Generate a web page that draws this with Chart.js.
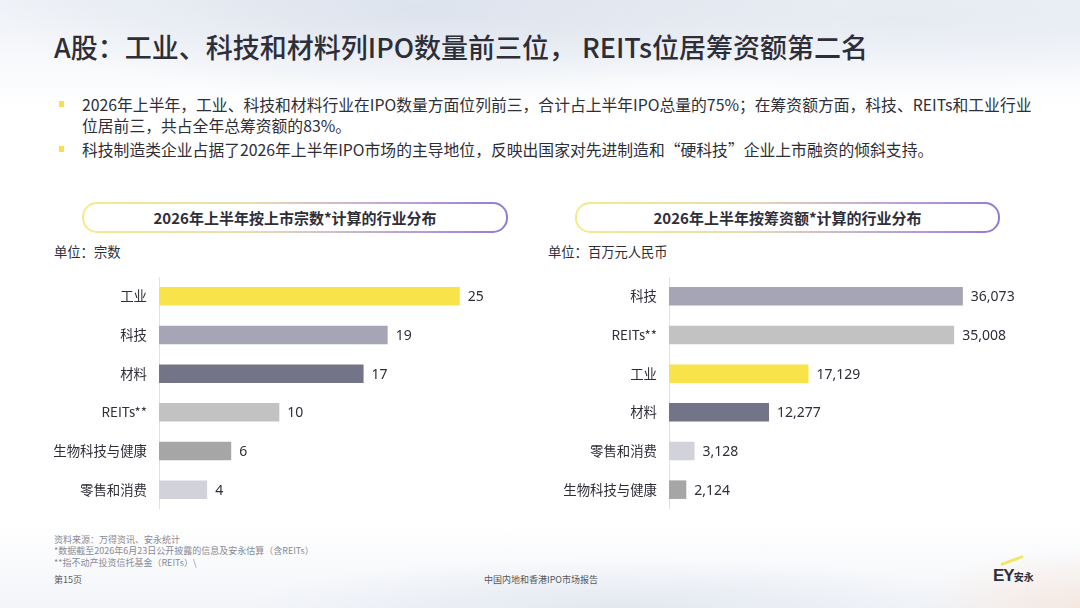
<!DOCTYPE html>
<html lang="zh-CN">
<head>
<meta charset="utf-8">
<title>A股IPO行业分布</title>
<script src="https://cdn.jsdelivr.net/npm/chart.js@4.4.0/dist/chart.umd.min.js"></script>
<style>
    html, body {
        margin: 0;
        padding: 0;
    }
    body {
        width: 1080px;
        height: 608px;
        position: relative;
        overflow: hidden;
        font-family: "Noto Sans CJK SC", "Noto Sans", sans-serif;
        color: #2e2e38;
        background:
            radial-gradient(ellipse 420px 90px at 420px 10px, rgba(214, 222, 234, 0.75), rgba(255,255,255,0) 100%),
            radial-gradient(ellipse 500px 70px at 900px 20px, rgba(222, 228, 238, 0.6), rgba(255,255,255,0) 100%),
            radial-gradient(ellipse 380px 50px at 620px 608px, rgba(220, 226, 236, 0.7), rgba(255,255,255,0) 100%),
            radial-gradient(ellipse 160px 60px at 1080px 608px, rgba(246, 226, 214, 0.7), rgba(255,255,255,0) 100%),
            linear-gradient(180deg, #eef1f6 0px, #ffffff 110px, #ffffff 520px, #f3f5f9 608px);
    }
    .abs {
        position: absolute;
        white-space: nowrap;
    }
    .title {
        left: 54px;
        top: 29px;
        font-size: 27px;
        font-weight: 500;
        line-height: 36px;
        color: #2e2e38;
    }
    .bullet {
        left: 82px;
        font-size: 15.8px;
        line-height: 21px;
        color: #2e2e38;
    }
    .bullet::before {
        content: "";
        position: absolute;
        left: -23px;
        top: 7px;
        width: 5px;
        height: 6px;
        background: #f3e24a;
    }
    .pill {
        position: absolute;
        top: 202px;
        height: 27px;
        border-radius: 15px;
        padding: 2px;
        background: linear-gradient(90deg, #f4ea8a 0%, #e8dcb4 40%, #b99ad8 80%, #8f7ad6 100%);
    }
    .pill div {
        width: 100%;
        height: 100%;
        border-radius: 13px;
        background: #ffffff;
        text-align: center;
        font-size: 15px;
        font-weight: 700;
        line-height: 27px;
        color: #2e2e38;
    }
    .unit {
        top: 243px;
        font-size: 13.3px;
        line-height: 18px;
        color: #2e2e38;
    }
    .note {
        left: 54px;
        font-size: 9px;
        line-height: 11px;
        color: #8a8a94;
    }
    canvas {
        position: absolute;
    }
</style>
</head>
<body>

<div class="abs title">A股：工业、科技和材料列IPO数量前三位， REITs位居筹资额第二名</div>

<div class="abs bullet" style="top: 94px;">2026年上半年，工业、科技和材料行业在IPO数量方面位列前三，合计占上半年IPO总量的75%；在筹资额方面，科技、REITs和工业行业<br>位居前三，共占全年总筹资额的83%。</div>
<div class="abs bullet" style="top: 139px;">科技制造类企业占据了2026年上半年IPO市场的主导地位，反映出国家对先进制造和“硬科技”企业上市融资的倾斜支持。</div>

<div class="pill" style="left: 82px; width: 422px;"><div>2026年上半年按上市宗数*计算的行业分布</div></div>
<div class="pill" style="left: 575px; width: 421px;"><div>2026年上半年按筹资额*计算的行业分布</div></div>

<div class="abs unit" style="left: 54px;">单位：宗数</div>
<div class="abs unit" style="left: 548px;">单位：百万元人民币</div>

<canvas id="countChart" width="480" height="232" style="left: 40px; top: 277px; width: 480px; height: 232px;"></canvas>
<canvas id="fundChart" width="520" height="232" style="left: 540px; top: 277px; width: 520px; height: 232px;"></canvas>

<div class="abs note" style="top: 534px;">资料来源：万得资讯、安永统计</div>
<div class="abs note" style="top: 545px;">*数据截至2026年6月23日公开披露的信息及安永估算（含REITs）</div>
<div class="abs note" style="top: 557px;">**指不动产投资信托基金（REITs）\</div>
<div class="abs note" style="top: 574px; color: #55555f;">第15页</div>
<div class="abs note" style="left: 484px; top: 574px; color: #55555f;">中国内地和香港IPO市场报告</div>

<div class="abs" style="left: 1000px; top: 559px; width: 24px; height: 3px; background: #f0e66a; transform: rotate(-20deg); border-radius: 2px;"></div>
<div class="abs" style="left: 993px; top: 566px; font-size: 17px; font-weight: 900; font-family: 'Liberation Sans', sans-serif; color: #2e2e38; letter-spacing: -1px;">EY<span style="font-size: 10px; font-weight: 700; font-family: 'Noto Sans CJK SC'; letter-spacing: 0;">安永</span></div>

<script>
// Left chart: number of listings by industry
const countLabels = ['工业', '科技', '材料', 'REITs**', '生物科技与健康', '零售和消费'];
const countValues = [25, 19, 17, 10, 6, 4];
const countColors = ['#f8e44a', '#a5a5b5', '#747489', '#c2c2c2', '#a6a6a6', '#d2d2da'];

// Right chart: funds raised by industry (RMB million)
const fundLabels = ['科技', 'REITs**', '工业', '材料', '零售和消费', '生物科技与健康'];
const fundValues = [36073, 35008, 17129, 12277, 3128, 2124];
const fundColors = ['#a5a5b5', '#c2c2c2', '#f8e44a', '#747489', '#d2d2da', '#a6a6a6'];

/**
 * Draws the value at the end of each bar
 */
const valueLabelPlugin = {
    id: 'valueLabels',
    afterDatasetsDraw(chart) {
        const ctx = chart.ctx;
        const meta = chart.getDatasetMeta(0);
        const values = chart.data.datasets[0].data;
        ctx.save();
        ctx.font = '14px "Noto Sans", "DejaVu Sans", sans-serif';
        ctx.fillStyle = '#2e2e38';
        ctx.textAlign = 'left';
        ctx.textBaseline = 'middle';
        meta.data.forEach((bar, i) => {
            ctx.fillText(values[i].toLocaleString('en-US'), bar.x + 8, bar.y + 1);
        });
        ctx.restore();
    }
};

function makeBarChart(id, labels, values, colors, maxValue, axisWidth) {
    const ctx = document.getElementById(id).getContext('2d');
    return new Chart(ctx, {
        type: 'bar',
        data: {
            labels: labels,
            datasets: [{
                data: values,
                backgroundColor: colors,
                borderWidth: 0,
                barPercentage: 0.48,
                categoryPercentage: 1
            }]
        },
        options: {
            indexAxis: 'y',
            animation: false,
            responsive: false,
            maintainAspectRatio: false,
            devicePixelRatio: 1,
            layout: { padding: 0 },
            plugins: {
                legend: { display: false },
                tooltip: { enabled: false }
            },
            scales: {
                x: {
                    display: false,
                    min: 0,
                    max: maxValue
                },
                y: {
                    grid: { display: false, drawTicks: false },
                    border: { display: true, color: '#e2e2e6', width: 1 },
                    ticks: {
                        color: '#2e2e38',
                        padding: 12,
                        font: { size: 13.4, family: '"Noto Sans CJK SC", "Noto Sans", sans-serif' }
                    },
                    afterFit: function(scale) {
                        // fixed axis width, and no extra room above/below the bars
                        scale.width = axisWidth;
                        scale.paddingTop = 0;
                        scale.paddingBottom = 0;
                    }
                }
            }
        },
        plugins: [valueLabelPlugin]
    });
}

document.addEventListener('DOMContentLoaded', function() {
    makeBarChart('countChart', countLabels, countValues, countColors, 30, 119);
    makeBarChart('fundChart', fundLabels, fundValues, fundColors, 48000, 129);
});
</script>
</body>
</html>
